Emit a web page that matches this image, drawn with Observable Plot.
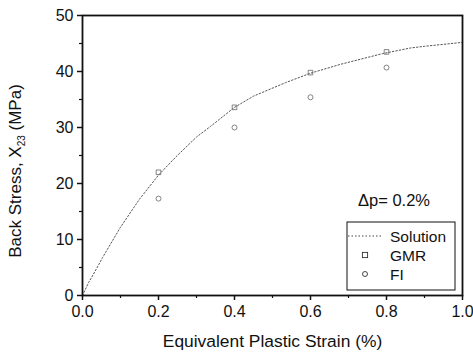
<!DOCTYPE html>
<html>
<head>
<meta charset="utf-8">
<script src="https://cdn.jsdelivr.net/npm/d3@7"></script>
<script src="https://cdn.jsdelivr.net/npm/@observablehq/plot@0.6"></script>
<style>
  html, body { margin: 0; padding: 0; background: #fff; }
  svg { display: block; }
</style>
</head>
<body>
<div id="chart"></div>
<script>
// Back stress against equivalent plastic strain, Δp = 0.2 %
const solutionStrain = [0, 0.016, 0.037, 0.053, 0.1, 0.15, 0.2, 0.245, 0.3, 0.337, 0.4, 0.45, 0.534, 0.6, 0.68, 0.79, 0.863, 0.9, 1.0];
const solutionStress = [0, 2.3, 4.8, 6.8, 12.2, 17.2, 21.5, 24.7, 28.3, 30.2, 33.6, 35.6, 38.0, 39.7, 41.3, 43.2, 44.2, 44.5, 45.2];

const sampleStrain = [0.2, 0.4, 0.6, 0.8];
const gmrStress = [22.0, 33.6, 39.8, 43.5];
const fiStress = [17.3, 30.0, 35.4, 40.7];

const xTicks = [0, 0.2, 0.4, 0.6, 0.8, 1.0];
const xMinorTicks = [0.1, 0.3, 0.5, 0.7, 0.9];
const yTicks = [0, 10, 20, 30, 40, 50];
const yMinorTicks = [5, 15, 25, 35, 45];

const seriesNames = ["Solution", "GMR", "FI"];
const stepLabel = "Δp= 0.2%";
const xTitle = "Equivalent Plastic Strain (%)";

const solution = solutionStrain.map((p, i) => ({p, x: solutionStress[i]}));
const gmr = sampleStrain.map((p, i) => ({p, x: gmrStress[i]}));
const fi = sampleStrain.map((p, i) => ({p, x: fiStress[i]}));

const font = "'Liberation Sans', Arial, Helvetica, sans-serif";
const ink = "#111";

const chart = Plot.plot({
  width: 473,
  height: 353,
  marginLeft: 82,
  marginRight: 11,
  marginTop: 15,
  marginBottom: 58,
  style: {fontFamily: font, background: "#fff", color: ink},
  x: {domain: [0, 1], label: null},
  y: {domain: [0, 50], label: null},
  marks: [
    Plot.line(solution, {x: "p", y: "x", stroke: "#555", strokeWidth: 1, strokeDasharray: "1.5,2"}),
    Plot.dot(gmr, {x: "p", y: "x", symbol: "square", r: 2.6, stroke: "#666", strokeWidth: 0.8, fill: "none"}),
    Plot.dot(fi, {x: "p", y: "x", symbol: "circle", r: 2.5, stroke: "#666", strokeWidth: 0.8, fill: "none"}),
    Plot.frame({stroke: ink, strokeWidth: 1.8}),
    Plot.axisX(xTicks, {tickSize: 5, tickPadding: 5, tickFormat: d3.format(".1f"), fontSize: 16, strokeWidth: 1.5, label: null}),
    Plot.axisX(xMinorTicks, {tickSize: 3, tickFormat: () => "", strokeWidth: 1.2, label: null}),
    Plot.axisY(yTicks, {tickSize: 5, tickPadding: 4, tickFormat: d3.format("d"), fontSize: 16, strokeWidth: 1.5, label: null}),
    Plot.axisY(yMinorTicks, {tickSize: 3, tickFormat: () => "", strokeWidth: 1.2, label: null}),
    Plot.text([xTitle], {frameAnchor: "bottom", dy: 45.5, lineAnchor: "middle", fontSize: 17.4, fill: ink})
  ]
});

document.getElementById("chart").append(chart);

// Annotations laid out relative to the plot frame
const svg = d3.select(chart);
const frameLeft = 82, frameRight = 473 - 11, frameTop = 15, frameBottom = 353 - 58;

// Y-axis title with a subscripted component index
const yTitle = svg.append("text")
  .attr("transform", `translate(21,${(frameTop + frameBottom) / 2 + 16}) rotate(-90)`)
  .attr("text-anchor", "middle")
  .attr("font-family", font)
  .attr("font-size", 17)
  .attr("fill", ink);
yTitle.append("tspan").text("Back Stress, X");
yTitle.append("tspan").attr("font-size", 10).attr("dy", 4).text("23");
yTitle.append("tspan").attr("dy", -4).text(" (MPa)");

// Step size note
svg.append("text")
  .attr("x", frameRight - 104).attr("y", frameTop + 191)
  .attr("text-anchor", "start")
  .attr("font-family", font).attr("font-size", 16.5).attr("fill", ink)
  .text(stepLabel);

// Legend box
const lg = svg.append("g").attr("transform", `translate(${frameRight - 115},${frameTop + 207})`);
lg.append("rect").attr("x", 0).attr("y", 0).attr("width", 108).attr("height", 68)
  .attr("fill", "#fff").attr("stroke", ink).attr("stroke-width", 1);
const rowY = [14, 33, 52];
lg.append("line").attr("x1", 1).attr("x2", 35).attr("y1", rowY[0]).attr("y2", rowY[0])
  .attr("stroke", "#444").attr("stroke-width", 1).attr("stroke-dasharray", "1.5,2");
lg.append("rect").attr("x", 18 - 2.6).attr("y", rowY[1] - 2.6).attr("width", 5.2).attr("height", 5.2)
  .attr("fill", "none").attr("stroke", "#333").attr("stroke-width", 0.9);
lg.append("circle").attr("cx", 18).attr("cy", rowY[2]).attr("r", 2.5)
  .attr("fill", "none").attr("stroke", "#333").attr("stroke-width", 0.9);
seriesNames.forEach((name, i) => {
  lg.append("text").attr("x", 43).attr("y", rowY[i] + 5.5)
    .attr("text-anchor", "start")
    .attr("font-family", font).attr("font-size", 15.5).attr("fill", ink)
    .text(name);
});
</script>
</body>
</html>
